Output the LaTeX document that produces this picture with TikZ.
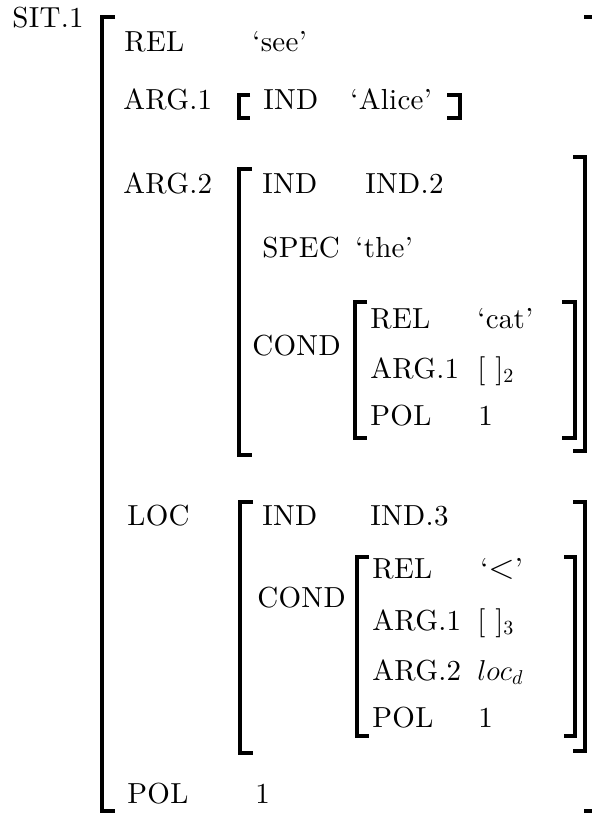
\documentclass[tikz,border=0pt]{standalone}
\usepackage{fontspec}
\setmainfont{lmroman10-regular}[Extension=.otf, ItalicFont=lmroman10-italic, LetterSpace=1]
\usetikzlibrary{positioning}

\begin{document}
\begin{tikzpicture}[x=0.5pt, y=-0.5pt,
    feat/.style={anchor=base west, inner sep=0pt, font=\fontsize{14.5}{17}\selectfont},
    brk/.style={line width=2pt, line join=miter}]
    \useasboundingbox (0,0) rectangle (592,813);

    \node[feat] (Sit) at (12,28) {SIT.1};

    % outer frame
    \draw[brk] (115,17.5) -- (102,17.5) -- (102,811) -- (115,811);
    \draw[brk] (584,17.5) -- (592,17.5);
    \draw[brk] (584,811) -- (592,811);

    \node[feat] (Rel) at (124,52) {REL};
    \node[feat] (RelVal) at (252,52) {`see'};

    \node[feat] (Arg1) at (123,110) {ARG.1};
    \node[feat] (Arg1Ind) at (263,110) {IND};
    \node[feat] (Arg1IndVal) at (350,110) {`Alice'};
    \draw[brk] (250,95) -- (239,95) -- (239,118) -- (250,118);
    \draw[brk] (447,95) -- (460,95) -- (460,118) -- (447,118);

    \node[feat] (Arg2) at (123,193) {ARG.2};
    \node[feat] (Arg2Ind) at (262,193) {IND};
    \node[feat] (Arg2IndVal) at (365,193) {IND.2};
    \node[feat] (Spec) at (262,257) {SPEC};
    \node[feat] (SpecVal) at (355,257) {`the'};
    \draw[brk] (252,169) -- (239,169) -- (239,455) -- (252,455);
    \draw[brk] (573,157) -- (585,157) -- (585,451) -- (573,451);

    \node[feat] (Cond) at (252,355) {COND};
    \node[feat] (CondRel) at (370,328) {REL};
    \node[feat] (CondRelVal) at (477,328) {`cat'};
    \node[feat] (CondArg1) at (370,378) {ARG.1};
    \node[feat] (CondArg1Val) at (477,378) {[\ ]$_2$};
    \node[feat] (CondPol) at (370,425) {POL};
    \node[feat] (CondPolVal) at (478,425) {1};
    \draw[brk] (367,302) -- (355,302) -- (355,438) -- (367,438);
    \draw[brk] (562,302) -- (575,302) -- (575,438) -- (562,438);

    \node[feat] (Loc) at (127,525) {LOC};
    \node[feat] (LocInd) at (262,525) {IND};
    \node[feat] (LocIndVal) at (370,525) {IND.3};
    \draw[brk] (253,502) -- (240,502) -- (240,753) -- (253,753);
    \draw[brk] (573,502) -- (585,502) -- (585,751) -- (573,751);

    \node[feat] (LocCond) at (257,607) {COND};
    \node[feat] (LocRel) at (372,578) {REL};
    \node[feat] (LocRelVal) at (480,578) {`{\fontsize{19}{19}\selectfont$<$}'};
    \node[feat] (LocArg1) at (372,630) {ARG.1};
    \node[feat] (LocArg1Val) at (477,630) {[\ ]$_3$};
    \node[feat] (LocArg2) at (372,680) {ARG.2};
    \node[feat] (LocArg2Val) at (477,680) {$loc_d$};
    \node[feat] (LocPol) at (372,727) {POL};
    \node[feat] (LocPolVal) at (478,727) {1};
    \draw[brk] (369,557) -- (357,557) -- (357,736) -- (369,736);
    \draw[brk] (564,557) -- (575,557) -- (575,736) -- (564,736);

    \node[feat] (Pol) at (127,803) {POL};
    \node[feat] (PolVal) at (255,803) {1};
\end{tikzpicture}
\end{document}
